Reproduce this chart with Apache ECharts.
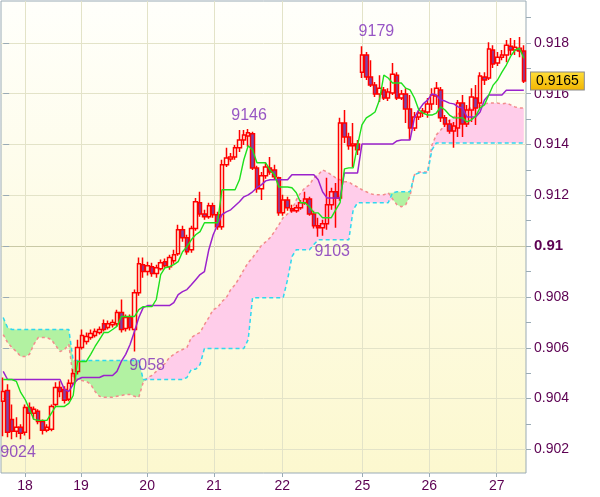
<!DOCTYPE html>
<html>
<head>
<meta charset="utf-8">
<script src="https://cdn.jsdelivr.net/npm/echarts@6/dist/echarts.min.js"></script>
<style>
html,body{margin:0;padding:0;background:#ffffff;}
#chart{width:600px;height:497px;}
</style>
</head>
<body>
<div id="chart"></div>
<script>
// ---- data (one candle per slot) ----
const openV = [0.90389,0.90432,0.90318,0.90271,0.90287,0.90267,0.90365,0.90342,0.90350,0.90310,
0.90275,0.90279,0.90377,0.90444,0.90436,0.90397,0.90460,0.90507,0.90601,0.90625,
0.90640,0.90648,0.90660,0.90695,0.90680,0.90691,0.90695,0.90739,0.90676,0.90719,
0.90672,0.90817,0.90927,0.90900,0.90919,0.90892,0.90911,0.90939,0.90919,0.90943,
0.90970,0.91065,0.91033,0.90986,0.91069,0.91171,0.91127,0.91116,0.91159,0.91124,
0.91076,0.91320,0.91343,0.91351,0.91387,0.91418,0.91434,0.91442,0.91308,0.91226,
0.91277,0.91308,0.91300,0.91269,0.91131,0.91182,0.91147,0.91139,0.91151,0.91171,
0.91186,0.91127,0.91080,0.91072,0.91088,0.91163,0.91214,0.91190,0.91485,0.91430,
0.91395,0.91402,0.91685,0.91752,0.91666,0.91634,0.91599,0.91615,0.91583,0.91603,
0.91673,0.91583,0.91599,0.91540,0.91465,0.91508,0.91524,0.91528,0.91560,0.91591,
0.91615,0.91505,0.91481,0.91453,0.91465,0.91563,0.91481,0.91536,0.91583,0.91563,
0.91666,0.91662,0.91772,0.91721,0.91744,0.91752,0.91787,0.91772,0.91779,0.91768];
const closeV = [0.90428,0.90267,0.90271,0.90287,0.90263,0.90365,0.90342,0.90358,0.90310,0.90275,
0.90287,0.90369,0.90444,0.90428,0.90393,0.90460,0.90499,0.90601,0.90648,0.90644,
0.90656,0.90664,0.90672,0.90672,0.90695,0.90699,0.90739,0.90672,0.90719,0.90680,
0.90817,0.90931,0.90900,0.90923,0.90892,0.90915,0.90935,0.90923,0.90955,0.90966,
0.91065,0.91033,0.90978,0.91069,0.91175,0.91127,0.91116,0.91159,0.91124,0.91076,
0.91320,0.91347,0.91351,0.91387,0.91418,0.91438,0.91446,0.91308,0.91226,0.91277,
0.91312,0.91292,0.91273,0.91131,0.91182,0.91151,0.91139,0.91151,0.91171,0.91186,
0.91127,0.91080,0.91072,0.91088,0.91163,0.91214,0.91190,0.91485,0.91430,0.91395,
0.91402,0.91379,0.91752,0.91666,0.91634,0.91599,0.91622,0.91583,0.91607,0.91677,
0.91583,0.91599,0.91540,0.91465,0.91508,0.91524,0.91532,0.91560,0.91595,0.91622,
0.91505,0.91481,0.91453,0.91473,0.91563,0.91481,0.91536,0.91587,0.91544,0.91670,
0.91654,0.91776,0.91717,0.91744,0.91752,0.91791,0.91772,0.91783,0.91768,0.91650];
const lowV = [0.90252,0.90248,0.90240,0.90248,0.90240,0.90255,0.90240,0.90318,0.90299,0.90259,
0.90267,0.90271,0.90369,0.90405,0.90381,0.90389,0.90452,0.90495,0.90593,0.90613,
0.90632,0.90640,0.90652,0.90664,0.90672,0.90680,0.90684,0.90660,0.90664,0.90668,
0.90585,0.90805,0.90876,0.90884,0.90880,0.90876,0.90904,0.90915,0.90907,0.90931,
0.90962,0.91017,0.90966,0.90974,0.91061,0.91116,0.91104,0.91108,0.91112,0.91065,
0.91065,0.91312,0.91332,0.91340,0.91371,0.91398,0.91391,0.91300,0.91210,0.91182,
0.91265,0.91281,0.91261,0.91120,0.91120,0.91139,0.91131,0.91131,0.91143,0.91163,
0.91120,0.91069,0.91037,0.91041,0.91065,0.91143,0.91072,0.91179,0.91406,0.91379,
0.91312,0.91359,0.91662,0.91654,0.91626,0.91587,0.91567,0.91575,0.91571,0.91595,
0.91575,0.91575,0.91485,0.91418,0.91453,0.91497,0.91508,0.91505,0.91536,0.91556,
0.91489,0.91469,0.91442,0.91387,0.91430,0.91430,0.91469,0.91489,0.91477,0.91544,
0.91634,0.91654,0.91701,0.91709,0.91732,0.91724,0.91752,0.91752,0.91744,0.91642];
const highV = [0.90483,0.90456,0.90377,0.90326,0.90299,0.90377,0.90385,0.90369,0.90358,0.90318,
0.90299,0.90377,0.90464,0.90468,0.90448,0.90475,0.90515,0.90632,0.90672,0.90660,
0.90672,0.90676,0.90684,0.90711,0.90707,0.90711,0.90750,0.90790,0.90731,0.90731,
0.90829,0.90955,0.90955,0.90939,0.90935,0.90927,0.90947,0.90951,0.90966,0.90986,
0.91084,0.91080,0.91045,0.91080,0.91190,0.91214,0.91143,0.91171,0.91171,0.91135,
0.91340,0.91387,0.91367,0.91398,0.91457,0.91457,0.91461,0.91450,0.91316,0.91292,
0.91328,0.91351,0.91320,0.91273,0.91202,0.91194,0.91163,0.91163,0.91182,0.91214,
0.91194,0.91139,0.91112,0.91104,0.91269,0.91230,0.91249,0.91505,0.91536,0.91446,
0.91485,0.91418,0.91787,0.91764,0.91732,0.91646,0.91673,0.91626,0.91622,0.91721,
0.91685,0.91615,0.91622,0.91595,0.91528,0.91536,0.91544,0.91583,0.91622,0.91646,
0.91626,0.91516,0.91497,0.91489,0.91575,0.91595,0.91556,0.91622,0.91634,0.91685,
0.91685,0.91803,0.91791,0.91764,0.91772,0.91811,0.91819,0.91811,0.91823,0.91791];
const tenkan = [0.90475,0.90475,0.90475,0.90468,0.90424,0.90397,0.90358,0.90318,0.90314,0.90314,
0.90314,0.90342,0.90369,0.90369,0.90369,0.90381,0.90412,0.90546,0.90546,0.90546,
0.90574,0.90605,0.90632,0.90660,0.90660,0.90672,0.90684,0.90723,0.90723,0.90723,
0.90723,0.90750,0.90762,0.90762,0.90762,0.90790,0.90888,0.90915,0.90919,0.90927,
0.90939,0.90978,0.90998,0.91025,0.91045,0.91057,0.91092,0.91092,0.91092,0.91092,
0.91222,0.91222,0.91222,0.91222,0.91261,0.91340,0.91395,0.91379,0.91328,0.91328,
0.91328,0.91300,0.91281,0.91233,0.91233,0.91233,0.91230,0.91210,0.91171,0.91171,
0.91155,0.91131,0.91131,0.91112,0.91112,0.91112,0.91143,0.91171,0.91304,0.91308,
0.91308,0.91398,0.91477,0.91505,0.91516,0.91528,0.91575,0.91673,0.91662,0.91642,
0.91642,0.91642,0.91622,0.91615,0.91583,0.91536,0.91524,0.91516,0.91516,0.91524,
0.91548,0.91536,0.91516,0.91505,0.91505,0.91505,0.91489,0.91497,0.91512,0.91544,
0.91556,0.91595,0.91634,0.91654,0.91685,0.91713,0.91748,0.91772,0.91779,0.91740];
const kijun = [0.90507,0.90475,0.90475,0.90475,0.90475,0.90475,0.90475,0.90475,0.90475,0.90475,
0.90475,0.90475,0.90475,0.90475,0.90436,0.90428,0.90456,0.90475,0.90483,0.90483,
0.90483,0.90483,0.90483,0.90491,0.90491,0.90491,0.90507,0.90546,0.90574,0.90613,
0.90664,0.90719,0.90758,0.90766,0.90766,0.90766,0.90766,0.90766,0.90766,0.90778,
0.90809,0.90821,0.90829,0.90848,0.90868,0.90888,0.90900,0.90986,0.91045,0.91084,
0.91124,0.91135,0.91143,0.91159,0.91175,0.91194,0.91202,0.91214,0.91230,0.91241,
0.91257,0.91261,0.91261,0.91261,0.91261,0.91261,0.91281,0.91281,0.91281,0.91281,
0.91281,0.91281,0.91261,0.91214,0.91190,0.91190,0.91190,0.91190,0.91288,0.91288,
0.91288,0.91288,0.91402,0.91402,0.91402,0.91402,0.91402,0.91402,0.91402,0.91402,
0.91414,0.91418,0.91418,0.91418,0.91505,0.91536,0.91560,0.91575,0.91599,0.91595,
0.91575,0.91571,0.91563,0.91560,0.91548,0.91544,0.91508,0.91508,0.91508,0.91528,
0.91575,0.91595,0.91595,0.91595,0.91595,0.91614,0.91614,0.91614,0.91614,0.91614];
const spanA = [0.90652,0.90621,0.90601,0.90585,0.90566,0.90566,0.90574,0.90613,0.90640,0.90640,
0.90640,0.90632,0.90609,0.90585,0.90593,0.90613,0.90483,0.90475,0.90471,0.90468,
0.90456,0.90428,0.90409,0.90405,0.90405,0.90405,0.90409,0.90412,0.90416,0.90416,
0.90409,0.90405,0.90464,0.90483,0.90491,0.90507,0.90523,0.90538,0.90562,0.90574,
0.90585,0.90593,0.90601,0.90640,0.90652,0.90660,0.90691,0.90719,0.90750,0.90758,
0.90782,0.90797,0.90829,0.90848,0.90876,0.90907,0.90935,0.90955,0.90978,0.91002,
0.91017,0.91033,0.91057,0.91084,0.91112,0.91127,0.91143,0.91182,0.91210,0.91230,
0.91241,0.91269,0.91281,0.91300,0.91292,0.91281,0.91269,0.91261,0.91253,0.91253,
0.91241,0.91233,0.91222,0.91214,0.91206,0.91202,0.91202,0.91202,0.91210,0.91186,
0.91163,0.91155,0.91163,0.91198,0.91281,0.91292,0.91292,0.91292,0.91398,0.91438,
0.91457,0.91477,0.91497,0.91508,0.91520,0.91536,0.91540,0.91544,0.91544,0.91552,
0.91560,0.91563,0.91563,0.91563,0.91560,0.91563,0.91556,0.91548,0.91544,0.91544];
const spanB = [0.90719,0.90680,0.90672,0.90672,0.90672,0.90672,0.90672,0.90672,0.90672,0.90672,
0.90672,0.90672,0.90672,0.90672,0.90672,0.90672,0.90550,0.90550,0.90550,0.90550,
0.90550,0.90550,0.90550,0.90550,0.90550,0.90550,0.90550,0.90550,0.90550,0.90550,
0.90550,0.90550,0.90475,0.90475,0.90475,0.90475,0.90475,0.90475,0.90475,0.90475,
0.90475,0.90475,0.90483,0.90515,0.90515,0.90534,0.90597,0.90597,0.90597,0.90597,
0.90597,0.90597,0.90597,0.90597,0.90597,0.90597,0.90632,0.90797,0.90797,0.90797,
0.90797,0.90797,0.90797,0.90797,0.90797,0.90868,0.90959,0.90986,0.90986,0.90986,
0.90986,0.91006,0.91025,0.91025,0.91025,0.91025,0.91025,0.91025,0.91025,0.91025,
0.91143,0.91171,0.91171,0.91171,0.91171,0.91171,0.91171,0.91171,0.91171,0.91210,
0.91214,0.91214,0.91214,0.91214,0.91281,0.91288,0.91288,0.91288,0.91379,0.91406,
0.91406,0.91406,0.91406,0.91406,0.91406,0.91406,0.91406,0.91406,0.91406,0.91406,
0.91406,0.91406,0.91406,0.91406,0.91406,0.91406,0.91406,0.91406,0.91406,0.91406];
// session starts on the time axis (candle slot) and their day labels
const dayTicks = [5.0, 17.8, 32.9, 48.2, 63.8, 82.1, 97.4, 112.8];
const dayLabels = ['18','19','20','21','22','25','26','27'];
// price axis labels / minor ticks
const yLabelValues = [0.902,0.904,0.906,0.908,0.910,0.912,0.914,0.916,0.918];
const yMinorValues = [0.902,0.903,0.904,0.905,0.906,0.907,0.908,0.909,0.910,0.911,0.912,0.913,0.914,0.915,0.916,0.917,0.918,0.919];
// extreme annotations: slot, price, text
const annotSlot = [3.4, 32.9, 56.2, 85.3, 75.2];
const annotPrice = [0.9024, 0.9058, 0.9146, 0.9179, 0.9103];
const annotText = ['9024', '9058', '9146', '9179', '9103'];
const annotSide = ['bottom', 'bottom', 'top', 'top', 'bottom'];
const lastPrice = 0.9165;

// ---- build series ----
const idx = openV.map((_, i) => i);
const slotNames = idx.map(i => String(i));
const candles = idx.map(i => [i, openV[i], closeV[i], lowV[i], highV[i]]);
const pts = arr => arr.map((v, i) => [i, v]);
const cloudBase = idx.map(i => Math.min(spanA[i], spanB[i]));
const cloudPink = idx.map(i => Math.max(spanA[i] - spanB[i], 0));
const cloudGreen = idx.map(i => Math.max(spanB[i] - spanA[i], 0));

const FONT = '"Liberation Sans", Arial, sans-serif';
const TXT = '#5c0052';
const chart = echarts.init(document.getElementById('chart'), null, {renderer: 'canvas'});

const gridColor = '#e3e3c8';
const splitColors = yLabelValues.map(v => Math.abs(v - 0.91) < 1e-9 ? '#c9c9a6' : gridColor);
const YMIN = 0.90107, YMAX = 0.91965;

chart.setOption({
  animation: false,
  backgroundColor: '#ffffff',
  grid: {
    left: 1, right: 74, top: 1, bottom: 24,
    show: true,
    borderColor: '#9aabb5', borderWidth: 1,
    backgroundColor: {type: 'linear', x: 0, y: 0, x2: 0, y2: 1,
      colorStops: [{offset: 0, color: '#fffffb'}, {offset: 1, color: '#fcf8cf'}]}
  },
  xAxis: [{
    type: 'value', min: -0.5, max: 119.5,
    axisLine: {show: false},
    axisTick: {show: true, customValues: dayTicks, length: 4, lineStyle: {color: '#9aabb5'}},
    axisLabel: {
      customValues: dayTicks, margin: 6,
      color: TXT, fontFamily: FONT, fontSize: 14,
      formatter: v => {
        let best = 0;
        dayTicks.forEach((t, k) => { if (Math.abs(t - v) < Math.abs(dayTicks[best] - v)) best = k; });
        return dayLabels[best];
      }
    },
    splitLine: {show: true, lineStyle: {color: gridColor, width: 1}}
  }, {
    type: 'category', data: slotNames, boundaryGap: true, show: false
  }],
  yAxis: [{
    type: 'value', position: 'right', min: YMIN, max: YMAX, scale: true,
    axisLine: {show: false},
    axisTick: {show: true, customValues: yLabelValues, length: 6, lineStyle: {color: '#9aabb5'}},
    axisLabel: {
      customValues: yLabelValues, margin: 8,
      color: TXT, fontFamily: FONT, fontSize: 14,
      formatter: v => Math.abs(v - 0.91) < 1e-9 ? '{b|0.91}' : v.toFixed(3),
      rich: {b: {fontWeight: 'bold', fontSize: 15, color: TXT, fontFamily: FONT}}
    },
    splitLine: {show: true, lineStyle: {color: splitColors, width: 1}}
  }, {
    type: 'value', position: 'right', min: YMIN, max: YMAX, scale: true,
    axisLine: {show: false},
    axisTick: {show: true, customValues: yMinorValues, length: 5, lineStyle: {color: '#9aabb5'}},
    axisLabel: {show: false},
    splitLine: {show: false}
  }, {
    type: 'value', position: 'right', min: YMIN, max: YMAX, scale: true, z: 10,
    axisLine: {show: false},
    axisTick: {show: false},
    axisLabel: {
      customValues: [lastPrice], margin: 5,
      formatter: v => v.toFixed(4),
      color: '#000000', fontFamily: FONT, fontSize: 14,
      padding: [2, 5, 1, 5], borderColor: '#8a8a8a', borderWidth: 1,
      backgroundColor: {type: 'linear', x: 0, y: 0, x2: 0, y2: 1,
        colorStops: [{offset: 0, color: '#ffdf3a'}, {offset: 1, color: '#f2b400'}]}
    },
    splitLine: {show: false}
  }],
  series: [
    {type: 'line', name: 'cloudBase', xAxisIndex: 1, data: cloudBase, stack: 'cloud', symbol: 'none',
      lineStyle: {opacity: 0}, z: 1, silent: true},
    {type: 'line', name: 'cloudPink', xAxisIndex: 1, data: cloudPink, stack: 'cloud', symbol: 'none',
      lineStyle: {opacity: 0}, areaStyle: {color: '#ffcdea', opacity: 1}, z: 1, silent: true},
    {type: 'line', name: 'cloudGreen', xAxisIndex: 1, data: cloudGreen, stack: 'cloud', symbol: 'none',
      lineStyle: {opacity: 0}, areaStyle: {color: '#b2f2a2', opacity: 1}, z: 1, silent: true},
    {type: 'line', name: 'spanA', data: pts(spanA), symbol: 'none', z: 2,
      lineStyle: {color: '#f28c8c', width: 1.5, type: [3, 3]}},
    {type: 'line', name: 'spanB', data: pts(spanB), symbol: 'none', z: 2,
      lineStyle: {color: '#2fd8ee', width: 1.5, type: [4, 3]}},
    {type: 'candlestick', name: 'price', data: candles, encode: {x: 0, y: [1, 2, 3, 4]},
      barWidth: 4, z: 3,
      itemStyle: {color: 'rgba(255,255,255,0)', color0: '#7c44a6', borderColor: '#ff0000',
        borderColor0: '#ff0000', borderWidth: 1.5}
    },
    {type: 'line', name: 'kijun', data: pts(kijun), symbol: 'none', z: 4,
      lineStyle: {color: '#9b22cc', width: 1.5}},
    {type: 'line', name: 'tenkan', data: pts(tenkan), symbol: 'none', z: 5,
      lineStyle: {color: '#1ee01e', width: 1.4}},
    {type: 'scatter', name: 'extremes', symbolSize: 0, z: 6, silent: true,
      data: annotSlot.map((s, k) => ({value: [s, annotPrice[k]],
        label: {show: true, position: annotSide[k], distance: annotSide[k] === 'top' ? 6 : 5,
          formatter: annotText[k], color: '#7d2ab8', fontFamily: FONT, fontSize: 16}}))}
  ]
});
</script>
</body>
</html>
